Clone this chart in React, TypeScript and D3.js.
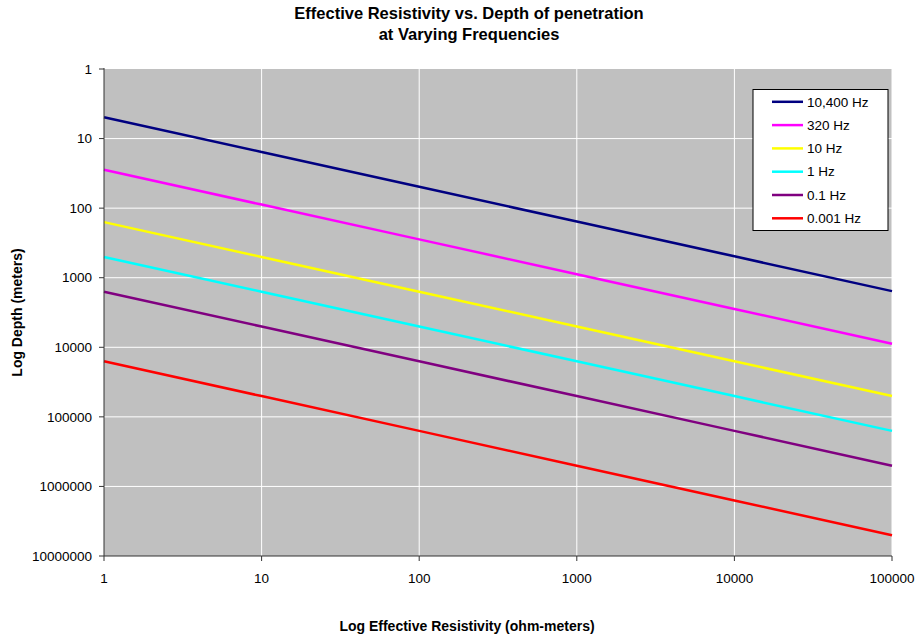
import React from "react";
import * as d3 from "d3";

// Effective resistivity (ohm-meters) at which depths are sampled
const resistivity = [1, 10, 100, 1000, 10000, 100000];

// Depth of penetration (meters) for each frequency
const freqLabels = ["10,400 Hz", "320 Hz", "10 Hz", "1 Hz", "0.1 Hz", "0.001 Hz"];
const freqColors = ["#000080", "#FF00FF", "#FFFF00", "#00FFFF", "#800080", "#FF0000"];
const depth10400Hz = [4.93, 15.6, 49.3, 156, 493, 1560];
const depth320Hz = [28.1, 88.9, 281, 889, 2810, 8890];
const depth10Hz = [159, 503, 1590, 5030, 15900, 50300];
const depth1Hz = [503, 1590, 5030, 15900, 50300, 159000];
const depth01Hz = [1590, 5030, 15900, 50300, 159000, 503000];
const depth0001Hz = [15900, 50300, 159000, 503000, 1590000, 5030000];
const depthSeries = [depth10400Hz, depth320Hz, depth10Hz, depth1Hz, depth01Hz, depth0001Hz];

const xTicks = [1, 10, 100, 1000, 10000, 100000];
const yTicks = [1, 10, 100, 1000, 10000, 100000, 1000000, 10000000];

const W = 916;
const H = 638;
const left = 104;
const right = 892;
const top = 69;
const bottom = 556;
const font = "'Liberation Sans', Arial, sans-serif";

export default function App() {
  const x = d3.scaleLog().domain([1, 100000]).range([left, right]);
  const y = d3.scaleLog().domain([1, 10000000]).range([top, bottom]);
  const line = d3
    .line<[number, number]>()
    .x((d) => x(d[0]))
    .y((d) => y(d[1]));

  const legendX = 753;
  const legendY = 89.5;
  const rowH = 23.3;

  return (
    <svg
      width={W}
      height={H}
      style={{ position: "absolute", left: 0, top: 0, background: "#fff" }}
      fontFamily={font}
    >
      {/* plot area */}
      <rect x={left} y={top} width={right - left} height={bottom - top} fill="#C0C0C0" />
      {yTicks.slice(1, -1).map((t) => (
        <line key={"gy" + t} x1={left} x2={right} y1={y(t)} y2={y(t)} stroke="#fff" strokeWidth={1} />
      ))}
      {xTicks.slice(1).map((t) => (
        <line key={"gx" + t} x1={x(t)} x2={x(t)} y1={top} y2={bottom} stroke="#fff" strokeWidth={1} />
      ))}

      {/* series */}
      {depthSeries.map((vals, i) => (
        <path
          key={freqLabels[i]}
          d={line(resistivity.map((r, j) => [r, vals[j]] as [number, number])) || ""}
          fill="none"
          stroke={freqColors[i]}
          strokeWidth={2.5}
        />
      ))}

      {/* axes */}
      <line x1={left} x2={left} y1={top - 1} y2={bottom} stroke="#333" strokeWidth={1} />
      <line x1={left} x2={right} y1={bottom} y2={bottom} stroke="#333" strokeWidth={1} />
      {yTicks.map((t) => (
        <g key={"ty" + t}>
          <line x1={left - 5} x2={left} y1={y(t)} y2={y(t)} stroke="#333" />
          <text x={92} y={y(t)} dy="0.35em" textAnchor="end" fontSize={13.5} fill="#000">
            {String(t)}
          </text>
        </g>
      ))}
      {xTicks.map((t) => (
        <g key={"tx" + t}>
          <line x1={x(t)} x2={x(t)} y1={bottom} y2={bottom + 5} stroke="#333" />
          <text x={x(t)} y={583} textAnchor="middle" fontSize={13.5} fill="#000">
            {String(t)}
          </text>
        </g>
      ))}

      {/* titles */}
      <text x={469} y={19} textAnchor="middle" fontSize={16.5} fontWeight="bold">
        Effective Resistivity vs. Depth of penetration
      </text>
      <text x={469} y={40} textAnchor="middle" fontSize={16.5} fontWeight="bold">
        at Varying Frequencies
      </text>
      <text x={467} y={631} textAnchor="middle" fontSize={14} fontWeight="bold">
        Log Effective Resistivity (ohm-meters)
      </text>
      <text
        transform={`translate(22,${(top + bottom) / 2}) rotate(-90)`}
        textAnchor="middle"
        fontSize={14}
        fontWeight="bold"
      >
        Log Depth (meters)
      </text>

      {/* legend */}
      <rect x={legendX} y={legendY} width={135} height={141} fill="#fff" stroke="#000" strokeWidth={1} />
      {freqLabels.map((lab, i) => {
        const cy = legendY + 12.3 + i * rowH;
        return (
          <g key={"lg" + lab}>
            <line x1={772} x2={803} y1={cy} y2={cy} stroke={freqColors[i]} strokeWidth={2.5} />
            <text x={807} y={cy} dy="0.35em" fontSize={13.5} fill="#000">
              {lab}
            </text>
          </g>
        );
      })}
    </svg>
  );
}
